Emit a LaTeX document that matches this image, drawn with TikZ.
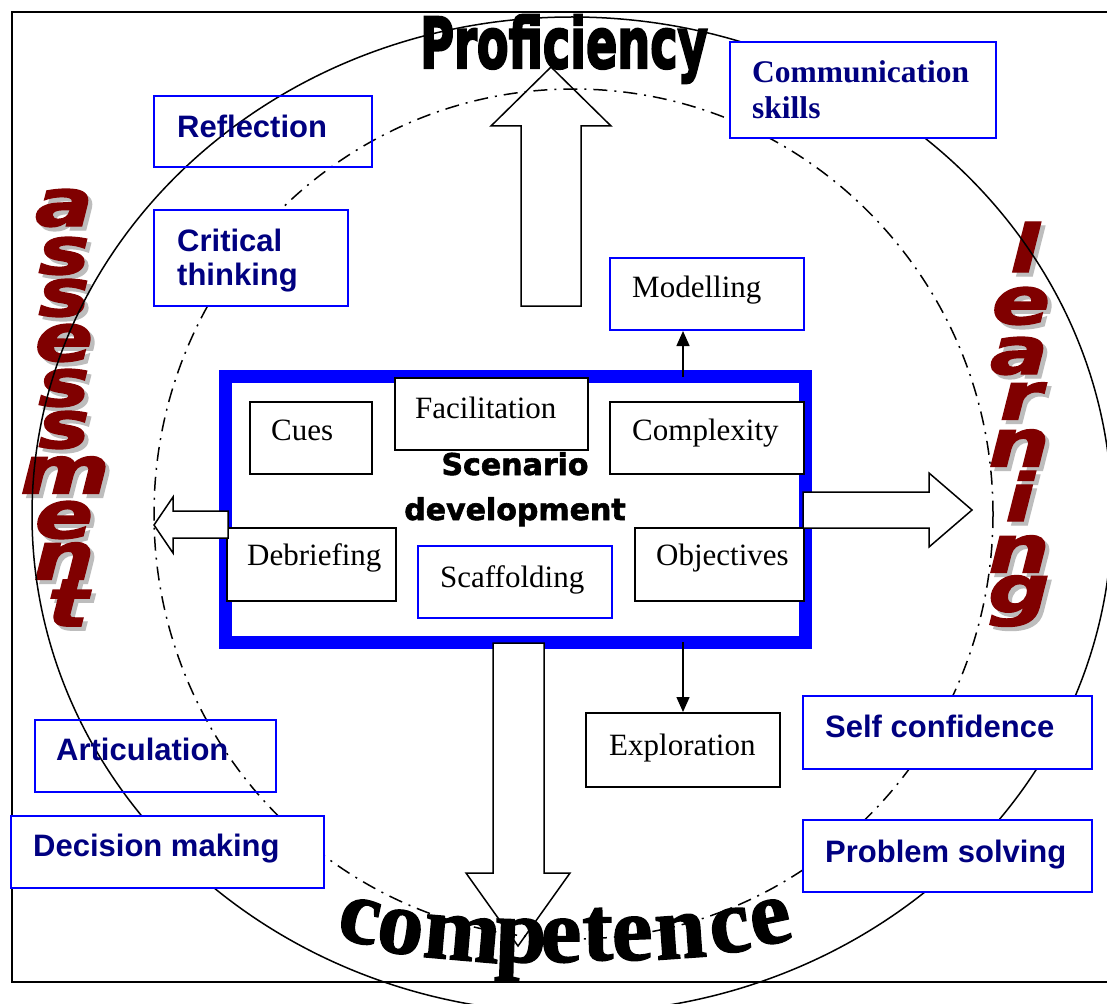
\documentclass[tikz,border=0pt]{standalone}
\usepackage{fontspec}
\usepackage{graphicx}
\setmainfont{Liberation Serif}
\newfontfamily\arial{Liberation Sans}
\newfontfamily\heavysans[FakeBold=2]{DejaVu Sans}
\newfontfamily\blacksans[FakeBold=3.5]{DejaVu Sans}
\newfontfamily\heavyserif[FakeBold=1.5]{Liberation Serif}
\usetikzlibrary{arrows.meta}
\definecolor{labelnavy}{HTML}{000080}
\definecolor{boxblue}{HTML}{0000FF}
\definecolor{wordred}{HTML}{800000}
\definecolor{wordshadow}{HTML}{BDBDBD}

% one shadowed letter of the vertical word-art words
\newcommand\waletter[4]{%
  \node[waglyph, text=wordshadow, xshift=4pt, yshift=-4pt] (#1s) at (#2,#3) {\scalebox{1.3}[1]{#4}};
  \node[waglyph, text=wordred] (#1) at (#2,#3) {\scalebox{1.3}[1]{#4}};
}
% one letter of the arched word at the bottom
\newcommand\arcletter[5]{%
  \node[arcglyph, rotate=#5] (#1) at (#2,#3) {#4};
}

\begin{document}
\begin{tikzpicture}[x=1pt,y=-1pt,
  frame/.style={draw=black, line width=2pt},
  ring/.style={draw=black, line width=1.5pt},
  dashring/.style={draw=black, line width=1.5pt, dash pattern=on 14pt off 7pt on 2pt off 7pt},
  scenbox/.style={draw=boxblue, line width=13pt, fill=white, inner sep=0pt,
                  minimum width=580pt, minimum height=266pt},
  inbox/.style={draw=black, line width=2pt, fill=white, inner sep=0pt},
  skillbox/.style={draw=boxblue, line width=2pt, inner sep=0pt},
  skillboxw/.style={skillbox, fill=white},
  skilltext/.style={font=\arial\bfseries\fontsize{31}{37}\selectfont, text=labelnavy,
                    anchor=base west, inner sep=0pt},
  commtext/.style={font=\bfseries\fontsize{31.5}{37}\selectfont, text=labelnavy,
                   anchor=base west, inner sep=0pt},
  plaintext/.style={font=\fontsize{31}{37}\selectfont, anchor=base west, inner sep=0pt},
  scentext/.style={font=\heavysans\bfseries\fontsize{30}{36}\selectfont, anchor=base, inner sep=0pt},
  bigarrow/.style={draw=black, line width=1.5pt, fill=white, line join=miter},
  smallarrow/.style={draw=black, line width=1.5pt, -{Triangle[length=15pt,width=13pt]}},
  waglyph/.style={font=\heavysans\bfseries\itshape\fontsize{66}{70}\selectfont, inner sep=0pt},
  arcglyph/.style={font=\heavyserif\bfseries\fontsize{92}{100}\selectfont, inner sep=0pt, anchor=base}
]
\useasboundingbox (0,0) rectangle (1107,1003);
\clip (0,0) rectangle (1107,1003);
\fill[white] (0,0) rectangle (1107,1003);

% page frame
\draw[frame] (12,12) rectangle (1140,982);

% vertical word art: assessment
\waletter{as1}{64}{208}{a}
\waletter{as2}{64}{256}{s}
\waletter{as3}{64}{298}{s}
\waletter{as4}{64}{343}{e}
\waletter{as5}{64}{388}{s}
\waletter{as6}{64}{430}{s}
\waletter{as7}{65}{475}{m}
\waletter{as8}{64}{520}{e}
\waletter{as9}{64}{561}{n}
\waletter{as10}{68}{603}{t}

% vertical word art: learning
\waletter{le1}{1025}{247}{l}
\waletter{le2}{1021}{306}{e}
\waletter{le3}{1019}{356}{a}
\waletter{le4}{1021}{401}{r}
\waletter{le5}{1019}{448}{n}
\waletter{le6}{1020}{496}{i}
\waletter{le7}{1019}{554}{n}
\waletter{le8}{1019}{601}{g}

% central scenario frame and its components
\node[scenbox] (scen) at (515.5,509.5) {};
\node[inbox, minimum width=122pt, minimum height=72pt] (cues) at (311,438) {};
\node[inbox, minimum width=193pt, minimum height=72pt] (facil) at (491.5,414) {};
\node[inbox, minimum width=194pt, minimum height=72pt] (compl) at (707,438) {};
\node[inbox, minimum width=169pt, minimum height=73pt] (debr) at (311.5,564.5) {};
\node[inbox, draw=boxblue, minimum width=194pt, minimum height=72pt] (scaff) at (515,582) {};
\node[inbox, minimum width=169pt, minimum height=73pt] (obj) at (719.5,564.5) {};

% outward block arrows
\path[bigarrow] (521,306) -- (521,126) -- (491,126) -- (551,67) -- (611,126) -- (581,126) -- (581,306) -- cycle;
\path[bigarrow] (228,511) -- (173,511) -- (173,497) -- (154,525) -- (173,553) -- (173,538) -- (228,538) -- cycle;
\path[bigarrow] (803,492) -- (929,492) -- (929,473) -- (972,510) -- (929,547) -- (929,528) -- (803,528) -- cycle;
\fill[white] (493,643) -- (493,873) -- (466,873) -- (518,946) -- (570,873) -- (544,873) -- (544,643) -- cycle;

% arched word at the bottom
\arcletter{co1}{355}{942}{c}{-12}
\arcletter{co2}{397}{953}{o}{-9}
\arcletter{co3}{460}{960}{m}{-5}
\arcletter{co4}{520}{962}{p}{-2}
\arcletter{co5}{561}{962}{e}{0}
\arcletter{co6}{598}{960}{t}{1}
\arcletter{co7}{633}{960}{e}{2}
\arcletter{co8}{682}{958}{n}{4}
\arcletter{co9}{733}{952}{c}{8}
\arcletter{co10}{775}{943}{e}{12}

\draw[line width=1.5pt, line join=miter] (493,643) -- (493,873) -- (466,873) -- (518,946) -- (570,873) -- (544,873) -- (544,643) -- cycle;

% outer ring and dash-dotted inner ring
\draw[ring] (572,515) ellipse [x radius=540, y radius=498];
\draw[dashring] (573.5,514) ellipse [x radius=419.5, y radius=425];

% boxes around the rings
\node[skillbox, minimum width=218pt, minimum height=71pt] (refl) at (263,131.5) {};
\node[skillboxw, minimum width=194pt, minimum height=96pt] (crit) at (251,258) {};
\node[skillboxw, minimum width=266pt, minimum height=96pt] (comm) at (863,90) {};
\node[skillboxw, minimum width=194pt, minimum height=72pt] (model) at (707,294) {};
\node[skillbox, minimum width=241pt, minimum height=72pt] (artic) at (155.5,756) {};
\node[skillboxw, minimum width=313pt, minimum height=72pt] (decis) at (167.5,852) {};
\node[skillboxw, minimum width=289pt, minimum height=73pt] (selfc) at (947.5,732.5) {};
\node[skillboxw, minimum width=289pt, minimum height=72pt] (probs) at (947.5,856) {};
\node[inbox, minimum width=194pt, minimum height=74pt] (expl) at (683,750) {};

% connectors from the scenario frame
\draw[smallarrow] ([yshift=-7pt]scen.north -| expl.north) -- (model.south -| expl.north);
\draw[smallarrow] ([yshift=7pt]scen.south -| expl.north) -- (expl.north);

% labels
\node[skilltext] (refl-t) at (177,138) {Reflection};
\node[skilltext] (crit-t1) at (177,251) {Critical};
\node[skilltext] (crit-t2) at (177,285) {thinking};
\node[commtext] (comm-t1) at (752,83) {Communication};
\node[commtext] (comm-t2) at (752,119) {skills};
\node[skilltext] (artic-t) at (56,760) {Articulation};
\node[skilltext] (decis-t) at (33,856) {Decision making};
\node[skilltext] (selfc-t) at (825,737) {Self confidence};
\node[skilltext] (probs-t) at (825,862) {Problem solving};

\node[plaintext] (model-t) at (632,297) {Modelling};
\node[plaintext] (expl-t) at (609,755) {Exploration};
\node[plaintext] (cues-t) at (271,440) {Cues};
\node[plaintext] (facil-t) at (415,418) {Facilitation};
\node[plaintext] (compl-t) at (632,440) {Complexity};
\node[plaintext] (debr-t) at (247,565) {Debriefing};
\node[plaintext] (scaff-t) at (440,587) {Scaffolding};
\node[plaintext] (obj-t) at (656,565) {Objectives};

\node[scentext] (scen-t1) at (515,475) {Scenario};
\node[scentext] (scen-t2) at (515,520) {development};

\node[font=\blacksans\bfseries\fontsize{70}{80}\selectfont, anchor=base, inner sep=0pt] (prof) at (564,68) {\scalebox{0.66}[1]{Proficiency}};
\end{tikzpicture}
\end{document}
